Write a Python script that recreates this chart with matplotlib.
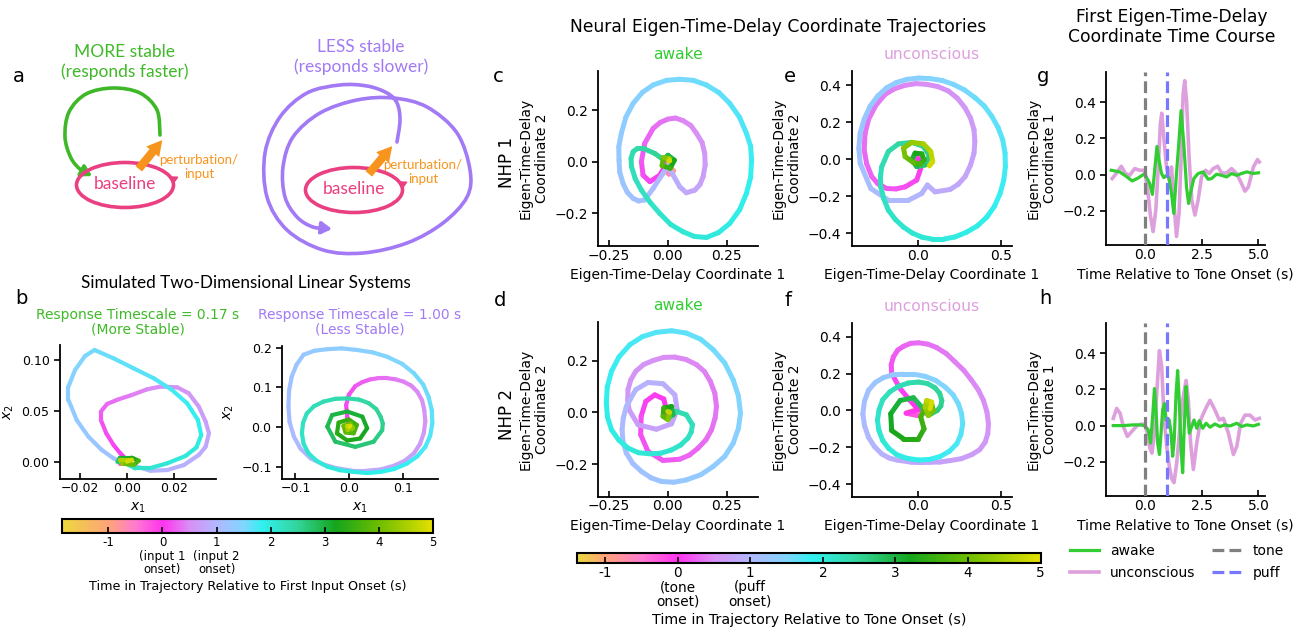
import numpy as np
import matplotlib
matplotlib.use("Agg")
import matplotlib.pyplot as plt
from matplotlib.collections import LineCollection
from matplotlib.colors import LinearSegmentedColormap, Normalize
from matplotlib.cm import ScalarMappable
from matplotlib.patches import Ellipse, FancyArrowPatch
from matplotlib.path import Path

W, H = 1305, 628

# ------------------------------------------------------------------
# colour code for time along the trajectories (time in s -> colour)
# ------------------------------------------------------------------
cmap_times = [-1.0, -0.5, 0.0, 0.5, 1.0, 1.5, 1.85, 2.5, 3.2, 4.0, 5.0]
cmap_colors = ['#ffa37a', '#ff7ad0', '#ff33f0', '#d98ff5', '#b0b8ff', '#80d6ff',
               '#30f0f0', '#33d49a', '#14a51c', '#6cbd00', '#e3e000']
start_color = '#ecd83c'
t_start_sim = -1.86     # first sample of simulated trajectories (panel b)
t_start_nhp = -1.39     # first sample of neural trajectories (panels c-f)

# ------------------------------------------------------------------
# panel b: simulated 2D linear systems, rows are (t, x1, x2)
# ------------------------------------------------------------------
sim_fast = [
    (-1.86, 0.002, -0.002), (-1.4, -0.003, 0.001), (-0.9, 0.003, 0.003), (-0.4, -0.003, -0.002),
    (0.0, -0.0007, 0.0033), (0.05, -0.0028, 0.0082), (0.1, -0.0057, 0.0164), (0.15, -0.0088, 0.0279),
    (0.2, -0.0111, 0.0410), (0.25, -0.0111, 0.0492), (0.3, -0.0085, 0.0567), (0.35, -0.0036, 0.0613),
    (0.4, 0.0021, 0.0656), (0.45, 0.0085, 0.0711), (0.5, 0.0142, 0.0738), (0.55, 0.0214, 0.0731),
    (0.6, 0.0263, 0.0672), (0.65, 0.0306, 0.0541), (0.7, 0.0335, 0.0393), (0.75, 0.0349, 0.0279),
    (0.8, 0.0335, 0.0148), (0.85, 0.0306, 0.0066), (0.9, 0.0242, -0.0033), (0.95, 0.0171, -0.0082),
    (1.0, 0.0100, -0.0089), (1.05, 0.0043, -0.0049), (1.1, -0.0007, -0.0016), (1.15, -0.0057, 0.0033),
    (1.2, -0.0107, 0.0115), (1.25, -0.0164, 0.0246), (1.3, -0.0214, 0.0410), (1.35, -0.0249, 0.0607),
    (1.4, -0.0249, 0.0738), (1.45, -0.0221, 0.0902), (1.5, -0.0178, 0.1040), (1.55, -0.0138, 0.1098),
    (1.6, -0.0057, 0.1016), (1.65, 0.0028, 0.0918), (1.7, 0.0114, 0.0820), (1.75, 0.0192, 0.0705),
    (1.8, 0.0256, 0.0574), (1.85, 0.0302, 0.0410), (1.9, 0.0316, 0.0262), (1.95, 0.0296, 0.0141),
    (2.0, 0.0249, 0.0056), (2.05, 0.0171, -0.0016), (2.1, 0.0093, -0.0066), (2.15, 0.0036, -0.0066),
    (2.2, 0.0007, -0.0033), (2.3, 0.000, -0.001), (2.6, -0.004, 0.000), (2.9, -0.003, 0.004),
    (3.2, 0.002, 0.004), (3.5, 0.005, 0.001), (3.8, 0.003, -0.003), (4.1, -0.002, -0.002),
    (4.4, -0.003, 0.002), (4.7, 0.002, 0.002), (5.0, 0.000, 0.000)]

sim_slow = [
    (-1.86, 0.001, -0.001), (-1.0, -0.001, 0.001), (-0.5, 0.001, 0.001),
    (0.0, -0.001, 0.003), (0.05, -0.004, 0.026), (0.1, -0.006, 0.055), (0.15, -0.001, 0.081),
    (0.2, 0.011, 0.103), (0.27, 0.039, 0.120), (0.34, 0.070, 0.123), (0.41, 0.101, 0.114),
    (0.48, 0.126, 0.089), (0.55, 0.139, 0.043), (0.62, 0.138, -0.016), (0.69, 0.120, -0.066),
    (0.76, 0.082, -0.098), (0.83, 0.033, -0.110), (0.9, -0.023, -0.104), (0.97, -0.072, -0.079),
    (1.04, -0.103, -0.024), (1.11, -0.113, 0.051), (1.18, -0.107, 0.127), (1.25, -0.085, 0.182),
    (1.32, -0.041, 0.196), (1.39, 0.014, 0.194), (1.46, 0.070, 0.177), (1.53, 0.120, 0.135),
    (1.6, 0.147, 0.076), (1.67, 0.154, 0.009), (1.74, 0.141, -0.050), (1.81, 0.107, -0.092),
    (1.88, 0.058, -0.113), (1.95, 0.008, -0.113), (2.02, -0.041, -0.100), (2.09, -0.076, -0.066),
    (2.16, -0.088, -0.016), (2.23, -0.079, 0.034), (2.3, -0.048, 0.064), (2.37, -0.004, 0.072),
    (2.44, 0.036, 0.060), (2.51, 0.058, 0.026), (2.58, 0.061, -0.008), (2.65, 0.045, -0.037),
    (2.72, 0.011, -0.050), (2.79, -0.026, -0.037), (2.86, -0.041, 0.001), (2.93, -0.032, 0.030),
    (3.0, -0.004, 0.039), (3.07, 0.024, 0.026), (3.14, 0.033, -0.003), (3.21, 0.020, -0.029),
    (3.28, -0.004, -0.034), (3.35, -0.023, -0.016), (3.42, -0.020, 0.011), (3.5, -0.001, 0.019),
    (3.6, 0.014, 0.005), (3.7, 0.008, -0.016), (3.8, -0.007, -0.014), (3.9, -0.011, 0.003),
    (4.0, 0.002, 0.009), (4.2, 0.007, -0.003), (4.4, -0.003, -0.008), (4.6, -0.004, 0.003),
    (4.8, 0.002, 0.003), (5.0, 0.000, 0.000),
    # extra samples read along the two large loops
    (0.235, 0.024, 0.113), (0.305, 0.054, 0.123), (0.375, 0.086, 0.120), (0.445, 0.115, 0.104),
    (0.515, 0.135, 0.067), (0.585, 0.141, 0.014), (0.655, 0.131, -0.043), (0.725, 0.103, -0.085),
    (0.795, 0.058, -0.107), (0.865, 0.005, -0.110), (0.935, -0.049, -0.094), (1.005, -0.091, -0.054),
    (1.075, -0.111, 0.013), (1.145, -0.112, 0.090), (1.215, -0.098, 0.157), (1.285, -0.065, 0.192),
    (1.355, -0.014, 0.198), (1.425, 0.043, 0.188), (1.495, 0.098, 0.159), (1.565, 0.137, 0.107),
    (1.635, 0.153, 0.042), (1.705, 0.150, -0.022), (1.775, 0.126, -0.074), (1.845, 0.083, -0.106),
    (1.915, 0.033, -0.116), (1.985, -0.017, -0.109), (2.055, -0.061, -0.085), (2.125, -0.085, -0.042),
    (2.195, -0.086, 0.010), (2.265, -0.066, 0.052), (2.335, -0.026, 0.071), (2.405, 0.018, 0.069),
    (2.475, 0.050, 0.045), (2.545, 0.062, 0.009)]

# ------------------------------------------------------------------
# panels c-f: eigen-time-delay coordinates, rows are (t, coord1, coord2)
# ------------------------------------------------------------------
nhp1_awake = [
    (-1.39, 0.010, -0.020), (-1.1, 0.025, -0.035), (-0.8, 0.005, -0.048), (-0.5, -0.015, -0.030),
    (-0.2, 0.008, -0.012),
    (0.0, 0.000, 0.000), (0.05, -0.034, -0.052), (0.1, -0.076, -0.077), (0.15, -0.105, -0.052),
    (0.2, -0.112, 0.000), (0.25, -0.098, 0.071), (0.3, -0.062, 0.129), (0.37, 0.001, 0.165),
    (0.44, 0.065, 0.159), (0.52, 0.122, 0.110), (0.6, 0.157, 0.032), (0.68, 0.150, -0.058),
    (0.75, 0.115, -0.110), (0.8, 0.079, -0.120), (0.85, 0.051, -0.097), (0.9, 0.023, -0.052),
    (0.95, 0.000, -0.013), (1.0, -0.020, -0.045), (1.05, -0.062, -0.103), (1.1, -0.098, -0.148),
    (1.15, -0.147, -0.142), (1.2, -0.190, -0.084), (1.27, -0.207, 0.006), (1.33, -0.197, 0.110),
    (1.4, -0.147, 0.226), (1.47, -0.062, 0.297), (1.53, 0.051, 0.319), (1.6, 0.164, 0.297),
    (1.67, 0.263, 0.226), (1.74, 0.334, 0.110), (1.8, 0.356, 0.006), (1.87, 0.334, -0.123),
    (1.93, 0.263, -0.239), (2.0, 0.164, -0.293), (2.06, 0.065, -0.271), (2.13, -0.034, -0.200),
    (2.2, -0.112, -0.110), (2.27, -0.154, -0.019), (2.33, -0.147, 0.039), (2.4, -0.105, 0.052),
    (2.47, -0.055, 0.032), (2.55, -0.020, 0.009), (2.8, 0.001, 0.025), (3.1, 0.028, 0.006),
    (3.4, 0.010, -0.025), (3.7, -0.024, -0.015), (4.0, -0.018, 0.016), (4.4, 0.006, 0.012),
    (4.7, 0.008, 0.004), (5.0, 0.004, 0.002),
    # extra samples along the loops
    (0.335, -0.032, 0.152), (0.405, 0.033, 0.169), (0.48, 0.098, 0.140), (0.56, 0.146, 0.074),
    (0.64, 0.159, -0.013), (0.715, 0.137, -0.088), (1.125, -0.124, -0.152), (1.175, -0.172, -0.118),
    (1.235, -0.204, -0.040), (1.30, -0.208, 0.058), (1.365, -0.178, 0.172), (1.435, -0.108, 0.268),
    (1.50, -0.005, 0.315), (1.565, 0.108, 0.315), (1.635, 0.218, 0.267), (1.705, 0.305, 0.172),
    (1.77, 0.352, 0.060), (1.835, 0.352, -0.060), (1.90, 0.305, -0.186), (1.965, 0.216, -0.274),
    (2.03, 0.113, -0.289), (2.095, 0.013, -0.243), (2.165, -0.075, -0.157), (2.235, -0.138, -0.066),
    (2.30, -0.156, 0.013), (2.365, -0.128, 0.052)]

nhp1_unconscious = [
    (-1.39, 0.010, -0.015), (-1.0, 0.035, 0.000), (-0.6, 0.015, 0.020), (-0.3, -0.010, 0.005),
    (0.0, 0.004, 0.000), (0.05, 0.018, -0.049), (0.1, -0.006, -0.112), (0.15, -0.076, -0.149),
    (0.2, -0.187, -0.158), (0.25, -0.277, -0.094), (0.3, -0.323, 0.051), (0.35, -0.297, 0.214),
    (0.4, -0.197, 0.350), (0.45, -0.076, 0.399), (0.5, 0.054, 0.404), (0.55, 0.185, 0.368),
    (0.6, 0.285, 0.277), (0.65, 0.339, 0.159), (0.7, 0.339, 0.033), (0.75, 0.285, -0.094),
    (0.8, 0.195, -0.163), (0.85, 0.104, -0.176), (0.9, 0.058, -0.139), (0.95, 0.024, -0.185),
    (1.0, -0.056, -0.221), (1.05, -0.177, -0.221), (1.1, -0.283, -0.158), (1.15, -0.347, -0.022),
    (1.21, -0.347, 0.141), (1.27, -0.287, 0.286), (1.33, -0.187, 0.386), (1.39, -0.066, 0.431),
    (1.45, 0.074, 0.435), (1.51, 0.215, 0.404), (1.57, 0.345, 0.332), (1.63, 0.446, 0.232),
    (1.69, 0.512, 0.105), (1.75, 0.528, -0.040), (1.81, 0.496, -0.185), (1.87, 0.416, -0.312),
    (1.93, 0.295, -0.393), (1.99, 0.155, -0.431), (2.05, 0.024, -0.420), (2.11, -0.086, -0.366),
    (2.17, -0.177, -0.275), (2.23, -0.223, -0.149), (2.29, -0.217, -0.040), (2.35, -0.177, 0.042),
    (2.41, -0.116, 0.083), (2.47, -0.036, 0.091), (2.53, 0.034, 0.069), (2.59, 0.070, 0.018),
    (2.7, 0.044, -0.031), (2.85, -0.006, -0.040), (3.0, -0.036, -0.004), (3.15, -0.016, 0.033),
    (3.3, 0.024, 0.029), (3.45, 0.038, -0.004), (3.6, 0.014, -0.025), (3.8, -0.026, -0.018),
    (4.0, -0.076, 0.014), (4.15, -0.086, 0.060), (4.3, -0.036, 0.091), (4.45, 0.034, 0.083),
    (4.6, 0.078, 0.042), (4.75, 0.090, -0.013), (4.9, 0.070, -0.036),
    # extra samples along the loops
    (0.175, -0.130, -0.160), (0.225, -0.240, -0.132), (0.275, -0.308, -0.024), (0.325, -0.318, 0.135),
    (0.375, -0.254, 0.289), (0.425, -0.138, 0.381), (0.475, -0.011, 0.408), (0.525, 0.121, 0.392),
    (0.575, 0.240, 0.328), (0.625, 0.318, 0.222), (0.675, 0.344, 0.096), (0.725, 0.318, -0.032),
    (0.775, 0.244, -0.135),
    (1.18, -0.355, 0.060), (1.24, -0.322, 0.218), (1.30, -0.241, 0.341), (1.36, -0.128, 0.414),
    (1.42, 0.004, 0.438), (1.48, 0.146, 0.425), (1.54, 0.283, 0.373), (1.60, 0.401, 0.287),
    (1.66, 0.484, 0.171), (1.72, 0.526, 0.033), (1.78, 0.518, -0.114), (1.84, 0.462, -0.254),
    (1.90, 0.360, -0.359), (1.96, 0.225, -0.419), (2.02, 0.088, -0.431), (2.08, -0.033, -0.398),
    (2.14, -0.135, -0.325), (2.20, -0.205, -0.213), (2.26, -0.225, -0.093)]

nhp2_awake = [
    (-1.39, 0.005, -0.010), (-1.0, 0.015, 0.005), (-0.6, -0.005, 0.012), (-0.3, -0.010, -0.005),
    (0.00, -0.003, 0.000), (0.03, -0.017, 0.052), (0.06, -0.055, 0.068), (0.09, -0.093, 0.043),
    (0.12, -0.113, -0.015), (0.15, -0.115, -0.086), (0.18, -0.084, -0.151), (0.21, -0.020, -0.186),
    (0.25, 0.051, -0.181), (0.29, 0.129, -0.138), (0.33, 0.186, -0.067), (0.37, 0.207, 0.023),
    (0.41, 0.181, 0.120), (0.45, 0.122, 0.185), (0.49, 0.030, 0.214), (0.53, -0.062, 0.201),
    (0.57, -0.136, 0.159), (0.61, -0.169, 0.088), (0.65, -0.164, 0.010), (0.69, -0.126, -0.048),
    (0.73, -0.048, -0.065), (0.77, 0.016, -0.044), (0.81, 0.040, 0.010), (0.85, 0.030, 0.068),
    (0.89, -0.020, 0.111), (0.93, -0.084, 0.116), (0.97, -0.136, 0.088), (1.01, -0.176, 0.023),
    (1.06, -0.194, -0.067), (1.11, -0.176, -0.157), (1.16, -0.112, -0.228), (1.21, -0.027, -0.267),
    (1.27, 0.079, -0.261), (1.33, 0.193, -0.209), (1.39, 0.278, -0.119), (1.45, 0.309, -0.003),
    (1.51, 0.278, 0.126), (1.57, 0.193, 0.243), (1.63, 0.079, 0.307), (1.69, -0.048, 0.310),
    (1.75, -0.161, 0.262), (1.81, -0.239, 0.159), (1.87, -0.261, 0.036), (1.93, -0.239, -0.067),
    (1.99, -0.169, -0.138), (2.05, -0.076, -0.160), (2.11, 0.016, -0.145), (2.17, 0.086, -0.099),
    (2.23, 0.105, -0.048), (2.29, 0.079, -0.009), (2.35, 0.037, 0.004),
    (2.5, 0.001, -0.022), (2.8, 0.023, -0.009), (3.1, 0.016, 0.023), (3.4, -0.017, 0.017),
    (3.7, -0.020, -0.015), (4.0, 0.001, -0.028), (4.4, 0.008, 0.000), (5.0, 0.000, 0.004),
    # extra samples along the loops
    (0.27, 0.092, -0.165), (0.31, 0.162, -0.106), (0.35, 0.201, -0.022), (0.39, 0.200, 0.074),
    (0.43, 0.156, 0.158), (0.47, 0.077, 0.205), (0.51, -0.017, 0.213), (0.55, -0.103, 0.185),
    (0.59, -0.157, 0.126), (0.63, -0.170, 0.048),
    (1.035, -0.189, -0.022), (1.085, -0.190, -0.114), (1.135, -0.148, -0.198), (1.185, -0.071, -0.253),
    (1.24, 0.026, -0.270), (1.30, 0.140, -0.241), (1.36, 0.242, -0.170), (1.42, 0.300, -0.062),
    (1.48, 0.300, 0.064), (1.54, 0.242, 0.191), (1.60, 0.140, 0.283), (1.66, 0.016, 0.316),
    (1.72, -0.108, 0.293), (1.78, -0.207, 0.215), (1.84, -0.257, 0.098), (1.90, -0.256, -0.018),
    (1.96, -0.208, -0.107), (2.02, -0.124, -0.156), (2.08, -0.030, -0.158), (2.14, 0.055, -0.126),
    (2.20, 0.100, -0.075)]

nhp2_unconscious = [
    (-1.39, -0.056, -0.009), (-1.0, -0.006, 0.004), (-0.7, 0.050, -0.011), (-0.35, -0.006, -0.027),
    (-0.1, -0.070, -0.015),
    (0.0, 0.004, 0.004), (0.05, -0.046, 0.054), (0.1, -0.106, 0.118), (0.15, -0.157, 0.200),
    (0.2, -0.147, 0.290), (0.25, -0.086, 0.348), (0.3, 0.004, 0.367), (0.35, 0.114, 0.341),
    (0.4, 0.225, 0.263), (0.45, 0.325, 0.163), (0.5, 0.396, 0.054), (0.55, 0.426, -0.073),
    (0.6, 0.406, -0.172), (0.65, 0.325, -0.240), (0.7, 0.195, -0.272), (0.75, 0.074, -0.281),
    (0.8, -0.036, -0.281), (0.85, -0.127, -0.269), (0.92, -0.217, -0.236), (1.0, -0.297, -0.145),
    (1.08, -0.331, -0.018), (1.16, -0.297, 0.109), (1.24, -0.207, 0.178), (1.32, -0.086, 0.196),
    (1.4, 0.044, 0.185), (1.48, 0.165, 0.127), (1.56, 0.245, 0.036), (1.64, 0.271, -0.073),
    (1.72, 0.235, -0.181), (1.8, 0.135, -0.250), (1.88, 0.004, -0.269), (1.96, -0.127, -0.240),
    (2.04, -0.211, -0.163), (2.12, -0.243, -0.054), (2.2, -0.211, 0.058), (2.28, -0.116, 0.131),
    (2.36, 0.004, 0.154), (2.44, 0.104, 0.123), (2.52, 0.145, 0.054), (2.6, 0.118, 0.000),
    (2.68, 0.064, -0.027), (2.8, 0.024, 0.018), (2.9, -0.026, 0.069), (3.0, -0.106, 0.054),
    (3.1, -0.163, -0.018), (3.2, -0.157, -0.109), (3.3, -0.086, -0.154), (3.4, 0.004, -0.154),
    (3.5, 0.038, -0.100), (3.6, 0.018, -0.036), (3.75, 0.044, 0.018), (3.9, 0.084, 0.036),
    (4.05, 0.094, 0.000), (4.2, 0.064, -0.027), (4.4, 0.044, 0.018), (4.6, 0.054, 0.054),
    (4.8, 0.084, 0.045), (5.0, 0.074, 0.009),
    # extra samples along the loops
    (0.175, -0.160, 0.248), (0.225, -0.121, 0.327), (0.275, -0.043, 0.364), (0.325, 0.060, 0.360),
    (0.375, 0.172, 0.308), (0.425, 0.278, 0.217), (0.475, 0.365, 0.111), (0.525, 0.417, -0.009),
    (0.575, 0.422, -0.126), (0.625, 0.373, -0.213), (0.675, 0.262, -0.262), (0.725, 0.134, -0.280),
    (0.775, 0.019, -0.283),
    (0.885, -0.173, -0.258), (0.96, -0.262, -0.195), (1.04, -0.321, -0.082), (1.12, -0.321, 0.050),
    (1.20, -0.256, 0.152), (1.28, -0.147, 0.194), (1.36, -0.021, 0.196), (1.44, 0.108, 0.163),
    (1.52, 0.212, 0.086), (1.60, 0.264, -0.017), (1.68, 0.260, -0.131), (1.76, 0.190, -0.222),
    (1.84, 0.070, -0.266), (1.92, -0.064, -0.260), (2.00, -0.176, -0.205), (2.08, -0.234, -0.109),
    (2.16, -0.233, 0.004), (2.24, -0.168, 0.101), (2.32, -0.056, 0.149), (2.40, 0.058, 0.146),
    (2.48, 0.132, 0.093), (2.56, 0.139, 0.024)]

# ------------------------------------------------------------------
# panels g-h: first coordinate vs time
# ------------------------------------------------------------------
g_awake_t = [-1.47, -1.1, -0.81, -0.55, -0.3, 0, 0.22, 0.34, 0.44, 0.54, 0.63, 0.74, 0.84, 0.96, 1.07,
             1.18, 1.28, 1.40, 1.51, 1.60, 1.72, 1.84, 1.93, 2.01, 2.16, 2.35, 2.57, 2.79, 2.94, 3.16,
             3.38, 3.6, 3.82, 4.04, 4.26, 4.49, 4.78, 5.0]
g_awake = [0.024, 0.015, -0.01, -0.035, -0.02, 0.005, -0.05, -0.11, 0.024, 0.156, 0.08, 0.006, -0.017,
           -0.004, -0.017, -0.105, -0.215, 0.006, 0.19, 0.354, 0.17, -0.068, -0.16, -0.105, -0.022, 0.006,
           0.015, -0.026, -0.022, 0.002, -0.004, -0.013, 0.006, -0.004, 0.006, 0.015, 0.006, 0.01]
g_unc_t = [-1.43, -1.25, -1.03, -0.84, -0.66, -0.44, -0.22, 0, 0.15, 0.26, 0.37, 0.49, 0.59, 0.69, 0.75,
           0.84, 0.96, 1.07, 1.18, 1.28, 1.40, 1.51, 1.60, 1.69, 1.76, 1.84, 1.96, 2.07, 2.21, 2.35, 2.5,
           2.68, 2.84, 3.01, 3.21, 3.38, 3.6, 3.82, 4.04, 4.26, 4.41, 4.56, 4.78, 4.96, 5.04]
g_unc = [-0.022, 0.006, 0.046, 0.006, -0.004, 0.033, 0.024, 0.024, -0.105, -0.233, -0.316, -0.196, 0.024,
         0.28, 0.34, 0.207, 0.042, -0.031, 0.042, -0.141, -0.343, -0.215, 0.079, 0.446, 0.52, 0.41, 0.079,
         -0.141, -0.224, -0.141, -0.013, 0.024, 0.006, 0.033, 0.046, 0.009, 0.009, 0.033, 0.006, -0.05,
         -0.092, -0.068, 0.042, 0.083, 0.07]

h_awake_t = [-1.38, -0.94, -0.5, -0.2, 0, 0.16, 0.26, 0.35, 0.43, 0.5, 0.57, 0.65, 0.72, 0.79, 0.87,
             0.94, 1.01, 1.08, 1.16, 1.23, 1.30, 1.38, 1.45, 1.52, 1.60, 1.67, 1.74, 1.82, 1.89, 1.96,
             2.07, 2.17, 2.29, 2.40, 2.55, 2.70, 2.87, 3.09, 3.31, 3.53, 3.75, 4.05, 4.27, 4.49, 4.78, 5.0]
h_awake = [0, 0, 0.004, 0.004, 0, -0.024, -0.097, 0.05, 0.205, 0.086, -0.097, -0.16, -0.042, 0.086, 0.122,
           0.031, 0.04, 0.031, -0.042, -0.17, -0.079, 0.177, 0.305, 0.14, -0.133, -0.261, -0.005, 0.217,
           0.086, -0.042, -0.005, 0.031, -0.015, 0.027, -0.015, 0.013, -0.009, 0.009, -0.005, 0.004,
           -0.002, 0.013, -0.005, 0.004, -0.002, 0.007]
h_unc_t = [-1.38, -1.23, -1.08, -0.94, -0.76, -0.57, -0.35, -0.13, 0, 0.12, 0.23, 0.32, 0.43, 0.53, 0.65,
           0.75, 0.85, 0.97, 1.08, 1.20, 1.29, 1.41, 1.55, 1.67, 1.82, 1.92, 2.02, 2.14, 2.29, 2.46, 2.65,
           2.87, 3.09, 3.28, 3.46, 3.68, 3.90, 4.05, 4.22, 4.41, 4.63, 4.85, 5.04]
h_unc = [0.04, 0.095, 0.068, -0.005, -0.06, -0.033, -0.002, 0.009, 0.004, -0.042, -0.124, -0.152, -0.042,
         0.177, 0.415, 0.324, 0.049, -0.115, -0.225, -0.298, -0.316, -0.207, -0.005, 0.14, 0.25, 0.14,
         -0.097, -0.243, -0.097, 0.031, 0.086, 0.14, 0.086, 0.031, 0.04, -0.042, -0.16, -0.115, 0.013,
         0.058, 0.058, 0.031, 0.04]
tone_time, puff_time = 0.0, 1.0

# ------------------------------------------------------------------
# schematic (panel a), figure pixel coordinates
# ------------------------------------------------------------------
fast_arc = [(160, 135), (157, 110), (140, 93), (113, 88), (86, 94), (69, 112), (65, 137),
            (71, 158), (81, 170), (92, 176)]
slow_spiral = [(397, 142), (400, 120), (397, 103), (387, 93), (367, 86), (340, 85), (307, 93),
               (280, 117), (265, 153), (267, 197), (287, 230), (323, 250), (363, 253), (407, 243),
               (443, 223), (467, 197), (470, 170), (457, 133), (427, 107), (393, 98), (357, 100),
               (320, 113), (293, 137), (283, 167), (285, 197), (297, 217), (313, 227), (332, 229)]

GREEN = '#3fb828'
PURPLE = '#a27af5'
PINK = '#ea3f80'
ORANGE = '#f7941d'
AWAKE = 'limegreen'
UNC = 'plum'
SKETCH_FONT = 'Lato'


def rect(l, t, r, b):
    return [l / W, 1 - b / H, (r - l) / W, (b - t) / H]


def time_cmap(tmin):
    pos = [0.0] + [(t - tmin) / (5.0 - tmin) for t in cmap_times]
    return LinearSegmentedColormap.from_list('tc', list(zip(pos, [start_color] + cmap_colors)))


def draw_traj(ax, rows, cmap, norm, lw=3.3):
    a = np.array(rows)
    a = a[np.argsort(a[:, 0])]
    t, x, y = a[:, 0], a[:, 1], a[:, 2]
    pts = np.column_stack([x, y])
    segs = np.stack([pts[:-1], pts[1:]], axis=1)
    lc = LineCollection(segs, cmap=cmap, norm=norm, linewidths=lw,
                        capstyle='round', joinstyle='round')
    lc.set_array(0.5 * (t[:-1] + t[1:]))
    ax.add_collection(lc)


def style(ax, size=10):
    for s in ['top', 'right']:
        ax.spines[s].set_visible(False)
    for s in ['left', 'bottom']:
        ax.spines[s].set_linewidth(1.3)
    ax.tick_params(axis='x', direction='in', length=4, width=1.2, pad=2, labelsize=size)
    ax.tick_params(axis='y', direction='out', length=4, width=1.2, labelsize=size)


def smooth_path(pts):
    # catmull-rom through the sketch points, as cubic beziers
    P = np.array(pts, float)
    P = np.vstack([P[0], P, P[-1]])
    verts, codes = [P[1]], [Path.MOVETO]
    for i in range(1, len(P) - 2):
        verts += [P[i] + (P[i + 1] - P[i - 1]) / 6, P[i + 1] - (P[i + 2] - P[i]) / 6, P[i + 1]]
        codes += [Path.CURVE4] * 3
    return Path(verts, codes)


def cbar(cax, cmap, norm, labels, label, tsize, lsize, spacing):
    cb = fig.colorbar(ScalarMappable(norm=norm, cmap=cmap), cax=cax, orientation='horizontal')
    cb.set_ticks([-1, 0, 1, 2, 3, 4, 5])
    cb.set_ticklabels(labels)
    cax.tick_params(direction='in', length=4, width=1.2, labelsize=tsize, pad=2)
    for lbl in cax.get_xticklabels():
        lbl.set_linespacing(spacing)
    cb.outline.set_linewidth(1.5)
    cb.set_label(label, fontsize=lsize, labelpad=3)


fig = plt.figure(figsize=(W / 100, H / 100), dpi=100)

# ---------------- panel a: schematic ----------------
ax0 = fig.add_axes([0, 0, 1, 1], zorder=-1)
ax0.set_xlim(0, W)
ax0.set_ylim(H, 0)
ax0.axis('off')

ax0.add_patch(FancyArrowPatch(path=smooth_path(fast_arc), arrowstyle='-|>,head_length=0.5,head_width=0.3',
                              mutation_scale=12, color=GREEN, lw=2.6))
ax0.add_patch(FancyArrowPatch(path=smooth_path(slow_spiral), arrowstyle='-|>,head_length=0.5,head_width=0.3',
                              mutation_scale=12, color=PURPLE, lw=2.6))
for cx, cy in [(125, 185), (354, 190)]:
    ax0.add_patch(Ellipse((cx, cy), 97, 45, fill=False, ec=PINK, lw=2.6))
    ax0.add_patch(FancyArrowPatch((cx + 48.5, cy - 6), (cx + 48.3, cy + 2),
                                  arrowstyle='-|>,head_length=0.5,head_width=0.35',
                                  mutation_scale=8, color=PINK, lw=1.2))
    ax0.text(cx, cy - 1, 'baseline', color=PINK, fontsize=12.5, ha='center', va='center',
             family=SKETCH_FONT)
for (x0, y0), (x1, y1), (tx, ty) in [((137, 171), (164, 138), (199, 167)),
                                     ((367, 176), (394, 144), (423, 172))]:
    ax0.add_patch(FancyArrowPatch((x0, y0), (x1, y1),
                                  arrowstyle='simple,head_length=0.9,head_width=1.0,tail_width=0.5',
                                  mutation_scale=12, color=ORANGE, lw=0))
    ax0.text(tx, ty, 'perturbation/\ninput', color=ORANGE, fontsize=9.5, ha='center', va='center',
             family=SKETCH_FONT, linespacing=1.25)
ax0.text(125, 62, 'MORE stable\n(responds faster)', color=GREEN, fontsize=12.5, ha='center',
         va='center', family=SKETCH_FONT, linespacing=1.2)
ax0.text(361, 57, 'LESS stable\n(responds slower)', color=PURPLE, fontsize=12.5, ha='center',
         va='center', family=SKETCH_FONT, linespacing=1.2)

# ---------------- panel b ----------------
cmap_b = time_cmap(t_start_sim)
norm_b = Normalize(t_start_sim, 5.0)

axb1 = fig.add_axes(rect(60, 345, 216, 479))
axb2 = fig.add_axes(rect(282, 346, 438, 479))
draw_traj(axb1, sim_fast, cmap_b, norm_b, lw=3.0)
draw_traj(axb2, sim_slow, cmap_b, norm_b, lw=3.0)
axb1.set_xlim(-0.0285, 0.0379)
axb1.set_ylim(-0.017, 0.1147)
axb1.set_xticks([-0.02, 0.0, 0.02])
axb1.set_yticks([0.0, 0.05, 0.10])
axb1.set_yticklabels(['0.00', '0.05', '0.10'])
axb2.set_xlim(-0.125, 0.1645)
axb2.set_ylim(-0.131, 0.204)
axb2.set_xticks([-0.1, 0.0, 0.1])
axb2.set_yticks([-0.1, 0.0, 0.1, 0.2])
for ax in (axb1, axb2):
    style(ax, size=9)
    ax.set_xlabel('$x_1$', fontsize=10)
    ax.set_ylabel('$x_2$', fontsize=10)

fig.text(138 / W, 1 - 322 / H, 'Response Timescale = 0.17 s\n(More Stable)', color=GREEN,
         fontsize=10, ha='center', va='center', linespacing=1.05)
fig.text(360 / W, 1 - 322 / H, 'Response Timescale = 1.00 s\n(Less Stable)', color=PURPLE,
         fontsize=10, ha='center', va='center', linespacing=1.05)
fig.text(246 / W, 1 - 283 / H, 'Simulated Two-Dimensional Linear Systems', fontsize=12.3,
         ha='center', va='center', family=SKETCH_FONT)

caxb = fig.add_axes(rect(61.7, 519.3, 433.3, 533.3))
cbar(caxb, cmap_b, norm_b, ['-1', '0\n(input 1\nonset)', '1\n(input 2\nonset)', '2', '3', '4', '5'],
     'Time in Trajectory Relative to First Input Onset (s)', 8.5, 9.2, 1.05)

# ---------------- panels c-f ----------------
cmap_n = time_cmap(t_start_nhp)
norm_n = Normalize(t_start_nhp, 5.0)

axc = fig.add_axes(rect(598.3, 71, 757.7, 246))
axd = fig.add_axes(rect(598.3, 321.7, 757.7, 496.7))
axe = fig.add_axes(rect(851.7, 71, 1011.7, 246))
axf = fig.add_axes(rect(851.7, 322.7, 1011.7, 496.7))
for ax, rows in [(axc, nhp1_awake), (axd, nhp2_awake), (axe, nhp1_unconscious), (axf, nhp2_unconscious)]:
    draw_traj(ax, rows, cmap_n, norm_n, lw=3.6)
    style(ax)
    ax.set_xlabel('Eigen-Time-Delay Coordinate 1', fontsize=10)
    ax.set_ylabel('Eigen-Time-Delay\nCoordinate 2', fontsize=10)
for ax in (axc, axd):
    ax.set_xlim(-0.295, 0.382)
    ax.set_ylim(-0.326, 0.351)
    ax.set_xticks([-0.25, 0.0, 0.25])
    ax.set_yticks([-0.2, 0.0, 0.2])
    ax.text(0.5, 1.092, 'awake', color=AWAKE, fontsize=11.2, ha='center', va='center',
            transform=ax.transAxes)
for ax in (axe, axf):
    ax.set_xlim(-0.398, 0.566)
    ax.set_ylim(-0.468, 0.476)
    ax.set_xticks([0.0, 0.5])
    ax.set_yticks([-0.4, -0.2, 0.0, 0.2, 0.4])
    ax.text(0.5, 1.092, 'unconscious', color=UNC, fontsize=11.2, ha='center', va='center',
            transform=ax.transAxes)

fig.text(778 / W, 1 - 27 / H, 'Neural Eigen-Time-Delay Coordinate Trajectories', fontsize=12.3,
         ha='center', va='center')
fig.text(507 / W, 1 - 163 / H, 'NHP 1', fontsize=12, rotation=90, ha='center', va='center')
fig.text(507 / W, 1 - 414 / H, 'NHP 2', fontsize=12, rotation=90, ha='center', va='center')

caxn = fig.add_axes(rect(576.7, 553.3, 1040.7, 563.3))
cbar(caxn, cmap_n, norm_n, ['-1', '0\n(tone\nonset)', '1\n(puff\nonset)', '2', '3', '4', '5'],
     'Time in Trajectory Relative to Tone Onset (s)', 9.8, 10.2, 1.03)

# ---------------- panels g-h ----------------
axg = fig.add_axes(rect(1106, 71.7, 1265, 245))
axh = fig.add_axes(rect(1106, 322.7, 1265, 496))
for ax, (ta, ya, tu, yu) in [(axg, (g_awake_t, g_awake, g_unc_t, g_unc)),
                             (axh, (h_awake_t, h_awake, h_unc_t, h_unc))]:
    lu, = ax.plot(tu, yu, color=UNC, lw=2.6)
    la, = ax.plot(ta, ya, color=AWAKE, lw=2.3)
    lt = ax.axvline(tone_time, color='grey', ls='--', lw=2.3, zorder=3)
    lp = ax.axvline(puff_time, color='#7878ff', ls='--', lw=2.3, zorder=3)
    style(ax)
    ax.set_xlim(-1.70, 5.29)
    ax.set_ylim(-0.39, 0.57)
    ax.set_xticks([0.0, 2.5, 5.0])
    ax.set_yticks([-0.2, 0.0, 0.2, 0.4])
    ax.set_xlabel('Time Relative to Tone Onset (s)', fontsize=10)
    ax.set_ylabel('Eigen-Time-Delay\nCoordinate 1', fontsize=10)
fig.text(1172 / W, 1 - 27 / H, 'First Eigen-Time-Delay\nCoordinate Time Course', fontsize=12.3,
         ha='center', va='center', linespacing=1.1)
axh.legend([la, lu, lt, lp], ['awake', 'unconscious', 'tone', 'puff'], ncol=2,
           loc='upper left', bbox_to_anchor=(1070 / W, 1 - 544 / H), bbox_transform=fig.transFigure,
           frameon=False, fontsize=10, handlelength=2.1, columnspacing=1.2, labelspacing=0.55,
           borderaxespad=0, borderpad=0)

# ---------------- panel letters ----------------
for s, (x, y) in {'a': (19, 77), 'b': (21, 298), 'c': (498, 77), 'd': (500, 300),
                  'e': (790, 77), 'f': (788, 300), 'g': (1043, 77), 'h': (1045, 298)}.items():
    fig.text(x / W, 1 - y / H, s, fontsize=14, ha='center', va='center')

fig.savefig('out.png', dpi=100)
